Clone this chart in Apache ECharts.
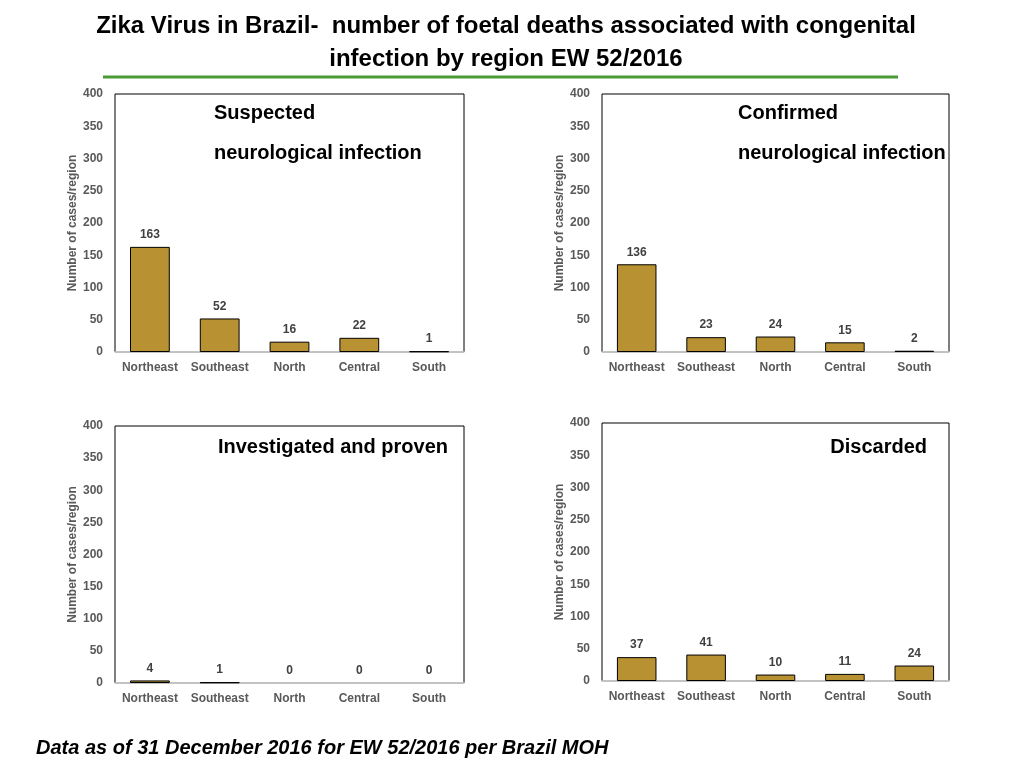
<!DOCTYPE html>
<html>
<head>
<meta charset="utf-8">
<script src="https://cdn.jsdelivr.net/npm/echarts@6/dist/echarts.min.js"></script>
<style>
  html, body { margin: 0; padding: 0; background: #fff; }
  #chart-container { width: 1024px; height: 768px; }
</style>
</head>
<body>
<div id="chart-container"></div>
<script>
// 数据
const regions = ['Northeast', 'Southeast', 'North', 'Central', 'South'];
const suspected = [163, 52, 16, 22, 1];
const confirmed = [136, 23, 24, 15, 2];
const investigated = [4, 1, 0, 0, 0];
const discarded = [37, 41, 10, 11, 24];
const yTicks = [0, 50, 100, 150, 200, 250, 300, 350, 400];

const mainTitle = 'Zika Virus in Brazil-  number of foetal deaths associated with congenital\ninfection by region EW 52/2016';
const footNote = 'Data as of 31 December 2016 for EW 52/2016 per Brazil MOH';

// 每个小图的网格位置
const grids = [
  { left: 115, top: 94, width: 349, height: 258 },
  { left: 602, top: 94, width: 347, height: 258 },
  { left: 115, top: 426, width: 349, height: 257 },
  { left: 602, top: 423, width: 347, height: 258 }
];
const panelData = [suspected, confirmed, investigated, discarded];

const gray = '#595959';
const font = '"Liberation Sans", Arial, sans-serif';

const option = {
  animation: false,
  backgroundColor: '#fff',
  title: [
    {
      text: mainTitle,
      left: 506,
      top: 10,
      padding: 0,
      textAlign: 'center',
      textStyle: { fontFamily: font, fontSize: 24, fontWeight: 'bold', color: '#000', lineHeight: 33 }
    },
    {
      text: 'Suspected\nneurological infection',
      left: 214, top: 93, padding: 0,
      textStyle: { fontFamily: font, fontSize: 20, fontWeight: 'bold', color: '#000', lineHeight: 40 }
    },
    {
      text: 'Confirmed\nneurological infection',
      left: 738, top: 93, padding: 0,
      textStyle: { fontFamily: font, fontSize: 20, fontWeight: 'bold', color: '#000', lineHeight: 40 }
    },
    {
      text: 'Investigated and proven',
      right: 576, top: 436, padding: 0,
      textStyle: { fontFamily: font, fontSize: 20, fontWeight: 'bold', color: '#000', lineHeight: 22 }
    },
    {
      text: 'Discarded',
      right: 97, top: 436, padding: 0,
      textStyle: { fontFamily: font, fontSize: 20, fontWeight: 'bold', color: '#000', lineHeight: 22 }
    },
    {
      text: footNote,
      left: 36, top: 737, padding: 0,
      textStyle: { fontFamily: font, fontSize: 20, fontWeight: 'bold', fontStyle: 'italic', color: '#000', lineHeight: 22 }
    }
  ],
  graphic: [{
    type: 'line',
    shape: { x1: 103, y1: 77, x2: 898, y2: 77 },
    style: { stroke: '#4a9a35', lineWidth: 3 }
  }],
  grid: grids.map(g => Object.assign({
    show: true, borderColor: '#000', borderWidth: 1, backgroundColor: 'transparent'
  }, g)),
  xAxis: grids.map((g, i) => ({
    type: 'category',
    gridIndex: i,
    data: regions,
    axisTick: { show: false },
    axisLine: { lineStyle: { color: '#d9d9d9', width: 1.5 } },
    axisLabel: {
      color: gray, fontSize: 12, fontWeight: 'bold',
      fontFamily: font, margin: 10, interval: 0
    }
  })),
  yAxis: grids.map((g, i) => ({
    type: 'value',
    gridIndex: i,
    min: 0, max: 400, interval: 50,
    name: 'Number of cases/region',
    nameLocation: 'middle',
    nameGap: 35,
    nameTextStyle: { color: gray, fontSize: 12, fontWeight: 'bold', fontFamily: font },
    axisLine: { show: false },
    axisTick: { show: false },
    splitLine: { show: false },
    axisLabel: {
      color: gray, fontSize: 12, fontWeight: 'bold',
      fontFamily: font, margin: 12,
      formatter: v => (yTicks.indexOf(v) >= 0 ? String(v) : '')
    }
  })),
  series: panelData.map((vals, i) => ({
    type: 'bar',
    xAxisIndex: i,
    yAxisIndex: i,
    barWidth: '57%',
    data: vals.map(v => ({
      value: v,
      itemStyle: { borderWidth: v === 0 ? 0 : 1 }
    })),
    itemStyle: { color: '#b89232', borderColor: '#000', borderWidth: 1 },
    label: {
      show: true, position: 'top', distance: 6,
      color: '#404040', fontSize: 12, fontWeight: 'bold',
      fontFamily: font
    }
  }))
};

const chart = echarts.init(document.getElementById('chart-container'));
chart.setOption(option);
</script>
</body>
</html>
